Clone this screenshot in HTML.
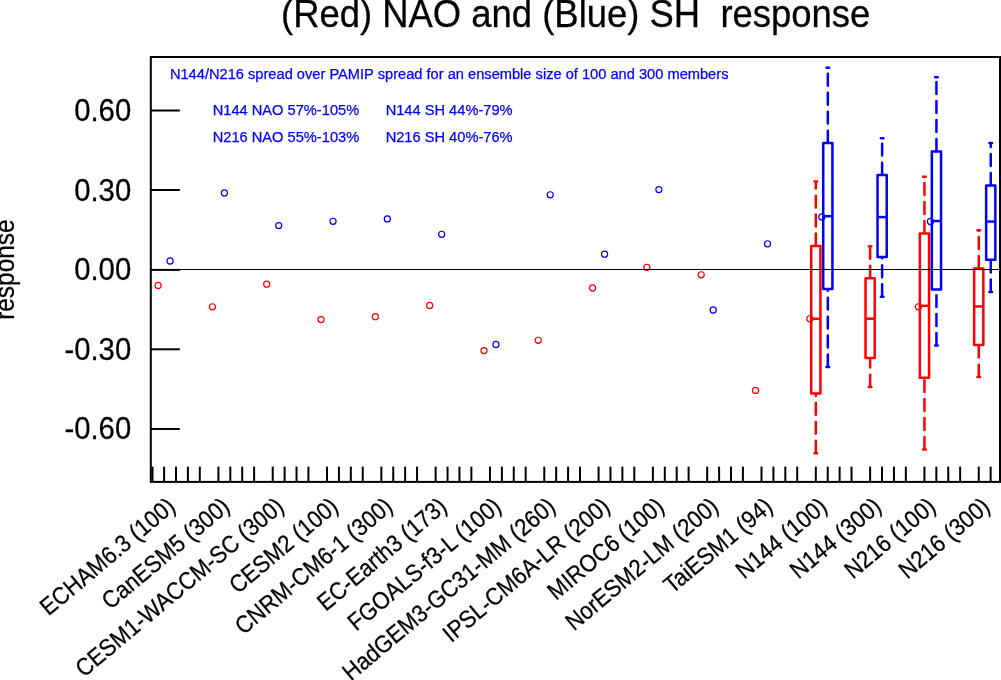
<!DOCTYPE html>
<html><head><meta charset="utf-8"><title>NAO SH response</title>
<style>
html,body{margin:0;padding:0;background:#fff;}
body{width:1001px;height:680px;overflow:hidden;}
svg{display:block;font-family:"Liberation Sans", sans-serif;will-change:transform;}
</style></head><body>
<svg width="1001" height="680" viewBox="0 0 1001 680">
<text transform="translate(575.65,26.80) scale(1.0000,1.0700)" font-size="36.45" text-anchor="middle" fill="#000" stroke="#000" stroke-width="0.25">(Red) NAO and (Blue) SH&#160;&#160;response</text>
<text transform="translate(13.60,269.60) rotate(-90) scale(1.0000,1.1000)" font-size="24.45" text-anchor="middle" fill="#000" stroke="#000" stroke-width="0.25">response</text>
<text transform="translate(131.20,121.30) scale(1.0000,1.0550)" font-size="29.3" text-anchor="end" fill="#000" stroke="#000" stroke-width="0.25">0.60</text>
<text transform="translate(131.20,200.80) scale(1.0000,1.0550)" font-size="29.3" text-anchor="end" fill="#000" stroke="#000" stroke-width="0.25">0.30</text>
<text transform="translate(131.20,280.30) scale(1.0000,1.0550)" font-size="29.3" text-anchor="end" fill="#000" stroke="#000" stroke-width="0.25">0.00</text>
<text transform="translate(131.20,359.80) scale(1.0000,1.0550)" font-size="29.3" text-anchor="end" fill="#000" stroke="#000" stroke-width="0.25">-0.30</text>
<text transform="translate(131.20,439.30) scale(1.0000,1.0550)" font-size="29.3" text-anchor="end" fill="#000" stroke="#000" stroke-width="0.25">-0.60</text>
<line x1="150.8" y1="269.50" x2="1000.0" y2="269.50" stroke="#000" stroke-width="1.0"/>
<line x1="150.8" y1="110.50" x2="179.8" y2="110.50" stroke="#000" stroke-width="2.0"/>
<line x1="150.8" y1="190.00" x2="179.8" y2="190.00" stroke="#000" stroke-width="2.0"/>
<line x1="150.8" y1="269.90" x2="179.8" y2="269.90" stroke="#000" stroke-width="2.0"/>
<line x1="150.8" y1="349.30" x2="179.8" y2="349.30" stroke="#000" stroke-width="2.0"/>
<line x1="150.8" y1="429.00" x2="179.8" y2="429.00" stroke="#000" stroke-width="2.0"/>
<line x1="152.50" y1="481.9" x2="152.50" y2="466.6" stroke="#000" stroke-width="2.0"/>
<line x1="164.10" y1="481.9" x2="164.10" y2="466.6" stroke="#000" stroke-width="2.0"/>
<line x1="176.00" y1="481.9" x2="176.00" y2="466.6" stroke="#000" stroke-width="2.0"/>
<line x1="187.90" y1="481.9" x2="187.90" y2="466.6" stroke="#000" stroke-width="2.0"/>
<line x1="199.80" y1="481.9" x2="199.80" y2="466.6" stroke="#000" stroke-width="2.0"/>
<line x1="218.41" y1="481.9" x2="218.41" y2="466.6" stroke="#000" stroke-width="2.0"/>
<line x1="230.31" y1="481.9" x2="230.31" y2="466.6" stroke="#000" stroke-width="2.0"/>
<line x1="242.21" y1="481.9" x2="242.21" y2="466.6" stroke="#000" stroke-width="2.0"/>
<line x1="254.11" y1="481.9" x2="254.11" y2="466.6" stroke="#000" stroke-width="2.0"/>
<line x1="272.72" y1="481.9" x2="272.72" y2="466.6" stroke="#000" stroke-width="2.0"/>
<line x1="284.62" y1="481.9" x2="284.62" y2="466.6" stroke="#000" stroke-width="2.0"/>
<line x1="296.52" y1="481.9" x2="296.52" y2="466.6" stroke="#000" stroke-width="2.0"/>
<line x1="308.42" y1="481.9" x2="308.42" y2="466.6" stroke="#000" stroke-width="2.0"/>
<line x1="327.03" y1="481.9" x2="327.03" y2="466.6" stroke="#000" stroke-width="2.0"/>
<line x1="338.93" y1="481.9" x2="338.93" y2="466.6" stroke="#000" stroke-width="2.0"/>
<line x1="350.83" y1="481.9" x2="350.83" y2="466.6" stroke="#000" stroke-width="2.0"/>
<line x1="362.73" y1="481.9" x2="362.73" y2="466.6" stroke="#000" stroke-width="2.0"/>
<line x1="381.34" y1="481.9" x2="381.34" y2="466.6" stroke="#000" stroke-width="2.0"/>
<line x1="393.24" y1="481.9" x2="393.24" y2="466.6" stroke="#000" stroke-width="2.0"/>
<line x1="405.14" y1="481.9" x2="405.14" y2="466.6" stroke="#000" stroke-width="2.0"/>
<line x1="417.04" y1="481.9" x2="417.04" y2="466.6" stroke="#000" stroke-width="2.0"/>
<line x1="435.65" y1="481.9" x2="435.65" y2="466.6" stroke="#000" stroke-width="2.0"/>
<line x1="447.55" y1="481.9" x2="447.55" y2="466.6" stroke="#000" stroke-width="2.0"/>
<line x1="459.45" y1="481.9" x2="459.45" y2="466.6" stroke="#000" stroke-width="2.0"/>
<line x1="471.35" y1="481.9" x2="471.35" y2="466.6" stroke="#000" stroke-width="2.0"/>
<line x1="489.96" y1="481.9" x2="489.96" y2="466.6" stroke="#000" stroke-width="2.0"/>
<line x1="501.86" y1="481.9" x2="501.86" y2="466.6" stroke="#000" stroke-width="2.0"/>
<line x1="513.76" y1="481.9" x2="513.76" y2="466.6" stroke="#000" stroke-width="2.0"/>
<line x1="525.66" y1="481.9" x2="525.66" y2="466.6" stroke="#000" stroke-width="2.0"/>
<line x1="544.27" y1="481.9" x2="544.27" y2="466.6" stroke="#000" stroke-width="2.0"/>
<line x1="556.17" y1="481.9" x2="556.17" y2="466.6" stroke="#000" stroke-width="2.0"/>
<line x1="568.07" y1="481.9" x2="568.07" y2="466.6" stroke="#000" stroke-width="2.0"/>
<line x1="579.97" y1="481.9" x2="579.97" y2="466.6" stroke="#000" stroke-width="2.0"/>
<line x1="598.58" y1="481.9" x2="598.58" y2="466.6" stroke="#000" stroke-width="2.0"/>
<line x1="610.48" y1="481.9" x2="610.48" y2="466.6" stroke="#000" stroke-width="2.0"/>
<line x1="622.38" y1="481.9" x2="622.38" y2="466.6" stroke="#000" stroke-width="2.0"/>
<line x1="634.28" y1="481.9" x2="634.28" y2="466.6" stroke="#000" stroke-width="2.0"/>
<line x1="652.89" y1="481.9" x2="652.89" y2="466.6" stroke="#000" stroke-width="2.0"/>
<line x1="664.79" y1="481.9" x2="664.79" y2="466.6" stroke="#000" stroke-width="2.0"/>
<line x1="676.69" y1="481.9" x2="676.69" y2="466.6" stroke="#000" stroke-width="2.0"/>
<line x1="688.59" y1="481.9" x2="688.59" y2="466.6" stroke="#000" stroke-width="2.0"/>
<line x1="707.20" y1="481.9" x2="707.20" y2="466.6" stroke="#000" stroke-width="2.0"/>
<line x1="719.10" y1="481.9" x2="719.10" y2="466.6" stroke="#000" stroke-width="2.0"/>
<line x1="731.00" y1="481.9" x2="731.00" y2="466.6" stroke="#000" stroke-width="2.0"/>
<line x1="742.90" y1="481.9" x2="742.90" y2="466.6" stroke="#000" stroke-width="2.0"/>
<line x1="761.51" y1="481.9" x2="761.51" y2="466.6" stroke="#000" stroke-width="2.0"/>
<line x1="773.41" y1="481.9" x2="773.41" y2="466.6" stroke="#000" stroke-width="2.0"/>
<line x1="785.31" y1="481.9" x2="785.31" y2="466.6" stroke="#000" stroke-width="2.0"/>
<line x1="797.21" y1="481.9" x2="797.21" y2="466.6" stroke="#000" stroke-width="2.0"/>
<line x1="815.82" y1="481.9" x2="815.82" y2="466.6" stroke="#000" stroke-width="2.0"/>
<line x1="827.72" y1="481.9" x2="827.72" y2="466.6" stroke="#000" stroke-width="2.0"/>
<line x1="839.62" y1="481.9" x2="839.62" y2="466.6" stroke="#000" stroke-width="2.0"/>
<line x1="851.52" y1="481.9" x2="851.52" y2="466.6" stroke="#000" stroke-width="2.0"/>
<line x1="870.13" y1="481.9" x2="870.13" y2="466.6" stroke="#000" stroke-width="2.0"/>
<line x1="882.03" y1="481.9" x2="882.03" y2="466.6" stroke="#000" stroke-width="2.0"/>
<line x1="893.93" y1="481.9" x2="893.93" y2="466.6" stroke="#000" stroke-width="2.0"/>
<line x1="905.83" y1="481.9" x2="905.83" y2="466.6" stroke="#000" stroke-width="2.0"/>
<line x1="924.44" y1="481.9" x2="924.44" y2="466.6" stroke="#000" stroke-width="2.0"/>
<line x1="936.34" y1="481.9" x2="936.34" y2="466.6" stroke="#000" stroke-width="2.0"/>
<line x1="948.24" y1="481.9" x2="948.24" y2="466.6" stroke="#000" stroke-width="2.0"/>
<line x1="960.14" y1="481.9" x2="960.14" y2="466.6" stroke="#000" stroke-width="2.0"/>
<line x1="978.75" y1="481.9" x2="978.75" y2="466.6" stroke="#000" stroke-width="2.0"/>
<line x1="990.65" y1="481.9" x2="990.65" y2="466.6" stroke="#000" stroke-width="2.0"/>
<rect x="150.8" y="57.0" width="849.20" height="424.90" fill="none" stroke="#000" stroke-width="2.0"/>
<text transform="translate(176.80,509.00) rotate(-40) scale(1.0000,1.1000)" font-size="22" text-anchor="end" fill="#000" stroke="#000" stroke-width="0.25">ECHAM6.3 (100)</text>
<text transform="translate(231.11,509.00) rotate(-40) scale(1.0000,1.1000)" font-size="22" text-anchor="end" fill="#000" stroke="#000" stroke-width="0.25">CanESM5 (300)</text>
<text transform="translate(285.42,509.00) rotate(-40) scale(1.0000,1.1000)" font-size="22" text-anchor="end" fill="#000" stroke="#000" stroke-width="0.25">CESM1-WACCM-SC (300)</text>
<text transform="translate(339.73,509.00) rotate(-40) scale(1.0000,1.1000)" font-size="22" text-anchor="end" fill="#000" stroke="#000" stroke-width="0.25">CESM2 (100)</text>
<text transform="translate(394.04,509.00) rotate(-40) scale(1.0000,1.1000)" font-size="22" text-anchor="end" fill="#000" stroke="#000" stroke-width="0.25">CNRM-CM6-1 (300)</text>
<text transform="translate(448.35,509.00) rotate(-40) scale(1.0000,1.1000)" font-size="22" text-anchor="end" fill="#000" stroke="#000" stroke-width="0.25">EC-Earth3 (173)</text>
<text transform="translate(502.66,509.00) rotate(-40) scale(1.0000,1.1000)" font-size="22" text-anchor="end" fill="#000" stroke="#000" stroke-width="0.25">FGOALS-f3-L (100)</text>
<text transform="translate(556.97,509.00) rotate(-40) scale(1.0000,1.1000)" font-size="22" text-anchor="end" fill="#000" stroke="#000" stroke-width="0.25">HadGEM3-GC31-MM (260)</text>
<text transform="translate(611.28,509.00) rotate(-40) scale(1.0000,1.1000)" font-size="22" text-anchor="end" fill="#000" stroke="#000" stroke-width="0.25">IPSL-CM6A-LR (200)</text>
<text transform="translate(665.59,509.00) rotate(-40) scale(1.0000,1.1000)" font-size="22" text-anchor="end" fill="#000" stroke="#000" stroke-width="0.25">MIROC6 (100)</text>
<text transform="translate(719.90,509.00) rotate(-40) scale(1.0000,1.1000)" font-size="22" text-anchor="end" fill="#000" stroke="#000" stroke-width="0.25">NorESM2-LM (200)</text>
<text transform="translate(774.21,509.00) rotate(-40) scale(1.0000,1.1000)" font-size="22" text-anchor="end" fill="#000" stroke="#000" stroke-width="0.25">TaiESM1 (94)</text>
<text transform="translate(828.52,509.00) rotate(-40) scale(1.0000,1.1000)" font-size="22" text-anchor="end" fill="#000" stroke="#000" stroke-width="0.25">N144 (100)</text>
<text transform="translate(882.83,509.00) rotate(-40) scale(1.0000,1.1000)" font-size="22" text-anchor="end" fill="#000" stroke="#000" stroke-width="0.25">N144 (300)</text>
<text transform="translate(937.14,509.00) rotate(-40) scale(1.0000,1.1000)" font-size="22" text-anchor="end" fill="#000" stroke="#000" stroke-width="0.25">N216 (100)</text>
<text transform="translate(991.45,509.00) rotate(-40) scale(1.0000,1.1000)" font-size="22" text-anchor="end" fill="#000" stroke="#000" stroke-width="0.25">N216 (300)</text>
<text transform="translate(169.90,79.30)" font-size="14.65" text-anchor="start" fill="#0000ff" stroke="#0000ff" stroke-width="0.25">N144/N216 spread over PAMIP spread for an ensemble size of 100 and 300 members</text>
<text transform="translate(212.70,115.20)" font-size="14.65" text-anchor="start" fill="#0000ff" stroke="#0000ff" stroke-width="0.25">N144 NAO 57%-105%</text>
<text transform="translate(385.65,115.20)" font-size="14.65" text-anchor="start" fill="#0000ff" stroke="#0000ff" stroke-width="0.25">N144 SH 44%-79%</text>
<text transform="translate(212.70,142.40)" font-size="14.65" text-anchor="start" fill="#0000ff" stroke="#0000ff" stroke-width="0.25">N216 NAO 55%-103%</text>
<text transform="translate(385.65,142.40)" font-size="14.65" text-anchor="start" fill="#0000ff" stroke="#0000ff" stroke-width="0.25">N216 SH 40%-76%</text>
<circle cx="158.10" cy="285.50" r="3.05" fill="none" stroke="#ff0000" stroke-width="1.2"/>
<circle cx="170.10" cy="261.00" r="3.05" fill="none" stroke="#0000ff" stroke-width="1.2"/>
<circle cx="212.41" cy="306.80" r="3.05" fill="none" stroke="#ff0000" stroke-width="1.2"/>
<circle cx="224.41" cy="193.00" r="3.05" fill="none" stroke="#0000ff" stroke-width="1.2"/>
<circle cx="266.72" cy="284.20" r="3.05" fill="none" stroke="#ff0000" stroke-width="1.2"/>
<circle cx="278.72" cy="225.60" r="3.05" fill="none" stroke="#0000ff" stroke-width="1.2"/>
<circle cx="321.03" cy="319.60" r="3.05" fill="none" stroke="#ff0000" stroke-width="1.2"/>
<circle cx="333.03" cy="221.30" r="3.05" fill="none" stroke="#0000ff" stroke-width="1.2"/>
<circle cx="375.34" cy="316.70" r="3.05" fill="none" stroke="#ff0000" stroke-width="1.2"/>
<circle cx="387.34" cy="218.90" r="3.05" fill="none" stroke="#0000ff" stroke-width="1.2"/>
<circle cx="429.65" cy="305.50" r="3.05" fill="none" stroke="#ff0000" stroke-width="1.2"/>
<circle cx="441.65" cy="234.30" r="3.05" fill="none" stroke="#0000ff" stroke-width="1.2"/>
<circle cx="483.96" cy="350.60" r="3.05" fill="none" stroke="#ff0000" stroke-width="1.2"/>
<circle cx="495.96" cy="344.50" r="3.05" fill="none" stroke="#0000ff" stroke-width="1.2"/>
<circle cx="538.27" cy="340.30" r="3.05" fill="none" stroke="#ff0000" stroke-width="1.2"/>
<circle cx="550.27" cy="194.80" r="3.05" fill="none" stroke="#0000ff" stroke-width="1.2"/>
<circle cx="592.58" cy="288.00" r="3.05" fill="none" stroke="#ff0000" stroke-width="1.2"/>
<circle cx="604.58" cy="254.20" r="3.05" fill="none" stroke="#0000ff" stroke-width="1.2"/>
<circle cx="646.89" cy="267.40" r="3.05" fill="none" stroke="#ff0000" stroke-width="1.2"/>
<circle cx="658.89" cy="189.60" r="3.05" fill="none" stroke="#0000ff" stroke-width="1.2"/>
<circle cx="701.20" cy="274.80" r="3.05" fill="none" stroke="#ff0000" stroke-width="1.2"/>
<circle cx="713.20" cy="310.00" r="3.05" fill="none" stroke="#0000ff" stroke-width="1.2"/>
<circle cx="755.51" cy="390.40" r="3.05" fill="none" stroke="#ff0000" stroke-width="1.2"/>
<circle cx="767.51" cy="243.80" r="3.05" fill="none" stroke="#0000ff" stroke-width="1.2"/>
<circle cx="809.82" cy="318.80" r="3.05" fill="none" stroke="#ff0000" stroke-width="1.2"/>
<circle cx="821.82" cy="216.90" r="3.05" fill="none" stroke="#0000ff" stroke-width="1.2"/>
<circle cx="918.44" cy="306.80" r="3.05" fill="none" stroke="#ff0000" stroke-width="1.2"/>
<circle cx="930.44" cy="221.50" r="3.05" fill="none" stroke="#0000ff" stroke-width="1.2"/>
<path d="M815.82 245.45V233.55M815.82 226.50V214.60M815.82 207.55V195.65M815.82 188.60V182.75" stroke="#ff0000" stroke-width="2.5" stroke-linecap="round" fill="none"/>
<path d="M815.82 452.75V440.85M815.82 433.80V421.90M815.82 414.85V402.95M815.82 395.90V394.75" stroke="#ff0000" stroke-width="2.5" stroke-linecap="round" fill="none"/>
<path d="M814.52 181.5H817.12M814.52 453.3H817.12" stroke="#ff0000" stroke-width="2.5" stroke-linecap="round" fill="none"/>
<rect x="811.22" y="246.0" width="9.20" height="147.50" fill="none" stroke="#ff0000" stroke-width="2.5" stroke-linejoin="round"/>
<line x1="811.22" y1="318.8" x2="820.42" y2="318.8" stroke="#ff0000" stroke-width="2.5"/>
<path d="M827.82 142.55V130.65M827.82 123.60V111.70M827.82 104.65V92.75M827.82 85.70V73.80M827.82 67.85V67.85" stroke="#0000ff" stroke-width="2.5" stroke-linecap="round" fill="none"/>
<path d="M827.82 366.45V354.55M827.82 347.50V335.60M827.82 328.55V316.65M827.82 309.60V297.70M827.82 290.65V290.25" stroke="#0000ff" stroke-width="2.5" stroke-linecap="round" fill="none"/>
<path d="M826.52 67.7H829.12M826.52 367.0H829.12" stroke="#0000ff" stroke-width="2.5" stroke-linecap="round" fill="none"/>
<rect x="823.22" y="143.10000000000002" width="9.20" height="145.90" fill="none" stroke="#0000ff" stroke-width="2.5" stroke-linejoin="round"/>
<line x1="823.22" y1="216.20000000000002" x2="832.42" y2="216.20000000000002" stroke="#0000ff" stroke-width="2.5"/>
<path d="M870.13 277.75V265.85M870.13 258.80V247.45" stroke="#ff0000" stroke-width="2.5" stroke-linecap="round" fill="none"/>
<path d="M870.13 386.55V374.65M870.13 367.60V359.25" stroke="#ff0000" stroke-width="2.5" stroke-linecap="round" fill="none"/>
<path d="M868.83 246.20000000000002H871.43M868.83 387.1H871.43" stroke="#ff0000" stroke-width="2.5" stroke-linecap="round" fill="none"/>
<rect x="865.53" y="278.3" width="9.20" height="79.70" fill="none" stroke="#ff0000" stroke-width="2.5" stroke-linejoin="round"/>
<line x1="865.53" y1="318.7" x2="874.73" y2="318.7" stroke="#ff0000" stroke-width="2.5"/>
<path d="M882.13 174.55V162.65M882.13 155.60V143.70" stroke="#0000ff" stroke-width="2.5" stroke-linecap="round" fill="none"/>
<path d="M882.13 296.15V284.25M882.13 277.20V265.30M882.13 258.30V258.30" stroke="#0000ff" stroke-width="2.5" stroke-linecap="round" fill="none"/>
<path d="M880.83 138.3H883.43M880.83 296.7H883.43" stroke="#0000ff" stroke-width="2.5" stroke-linecap="round" fill="none"/>
<rect x="877.53" y="175.10000000000002" width="9.20" height="82.00" fill="none" stroke="#0000ff" stroke-width="2.5" stroke-linejoin="round"/>
<line x1="877.53" y1="217.10000000000002" x2="886.73" y2="217.10000000000002" stroke="#0000ff" stroke-width="2.5"/>
<path d="M924.44 232.85V220.95M924.44 213.90V202.00M924.44 194.95V183.05M924.44 176.98V176.98" stroke="#ff0000" stroke-width="2.5" stroke-linecap="round" fill="none"/>
<path d="M924.44 448.85V436.95M924.44 429.90V418.00M924.44 410.95V399.05M924.44 392.00V380.10" stroke="#ff0000" stroke-width="2.5" stroke-linecap="round" fill="none"/>
<path d="M923.14 176.70000000000002H925.74M923.14 449.40000000000003H925.74" stroke="#ff0000" stroke-width="2.5" stroke-linecap="round" fill="none"/>
<rect x="919.84" y="233.4" width="9.20" height="144.40" fill="none" stroke="#ff0000" stroke-width="2.5" stroke-linejoin="round"/>
<line x1="919.84" y1="305.8" x2="929.04" y2="305.8" stroke="#ff0000" stroke-width="2.5"/>
<path d="M936.44 150.85V138.95M936.44 131.90V120.00M936.44 112.95V101.05M936.44 94.00V82.10" stroke="#0000ff" stroke-width="2.5" stroke-linecap="round" fill="none"/>
<path d="M936.44 344.95V333.05M936.44 326.00V314.10M936.44 307.05V295.15" stroke="#0000ff" stroke-width="2.5" stroke-linecap="round" fill="none"/>
<path d="M935.14 77.3H937.74M935.14 345.5H937.74" stroke="#0000ff" stroke-width="2.5" stroke-linecap="round" fill="none"/>
<rect x="931.84" y="151.4" width="9.20" height="138.10" fill="none" stroke="#0000ff" stroke-width="2.5" stroke-linejoin="round"/>
<line x1="931.84" y1="221.0" x2="941.04" y2="221.0" stroke="#0000ff" stroke-width="2.5"/>
<path d="M978.75 267.95V256.05M978.75 249.00V237.10M978.75 230.80V230.80" stroke="#ff0000" stroke-width="2.5" stroke-linecap="round" fill="none"/>
<path d="M978.75 376.55V364.65M978.75 357.60V346.35" stroke="#ff0000" stroke-width="2.5" stroke-linecap="round" fill="none"/>
<path d="M977.45 230.3H980.05M977.45 377.1H980.05" stroke="#ff0000" stroke-width="2.5" stroke-linecap="round" fill="none"/>
<rect x="974.15" y="268.5" width="9.20" height="76.60" fill="none" stroke="#ff0000" stroke-width="2.5" stroke-linejoin="round"/>
<line x1="974.15" y1="306.5" x2="983.35" y2="306.5" stroke="#ff0000" stroke-width="2.5"/>
<path d="M990.75 184.85V172.95M990.75 165.90V154.00M990.75 146.95V144.35" stroke="#0000ff" stroke-width="2.5" stroke-linecap="round" fill="none"/>
<path d="M990.75 291.45V279.55M990.75 272.50V261.05" stroke="#0000ff" stroke-width="2.5" stroke-linecap="round" fill="none"/>
<path d="M989.45 143.10000000000002H992.05M989.45 292.0H992.05" stroke="#0000ff" stroke-width="2.5" stroke-linecap="round" fill="none"/>
<rect x="986.15" y="185.4" width="9.20" height="74.40" fill="none" stroke="#0000ff" stroke-width="2.5" stroke-linejoin="round"/>
<line x1="986.15" y1="221.60000000000002" x2="995.35" y2="221.60000000000002" stroke="#0000ff" stroke-width="2.5"/>
<line x1="150.8" y1="269.50" x2="1000.0" y2="269.50" stroke="#000" stroke-width="1.0"/>
</svg>
</body></html>
